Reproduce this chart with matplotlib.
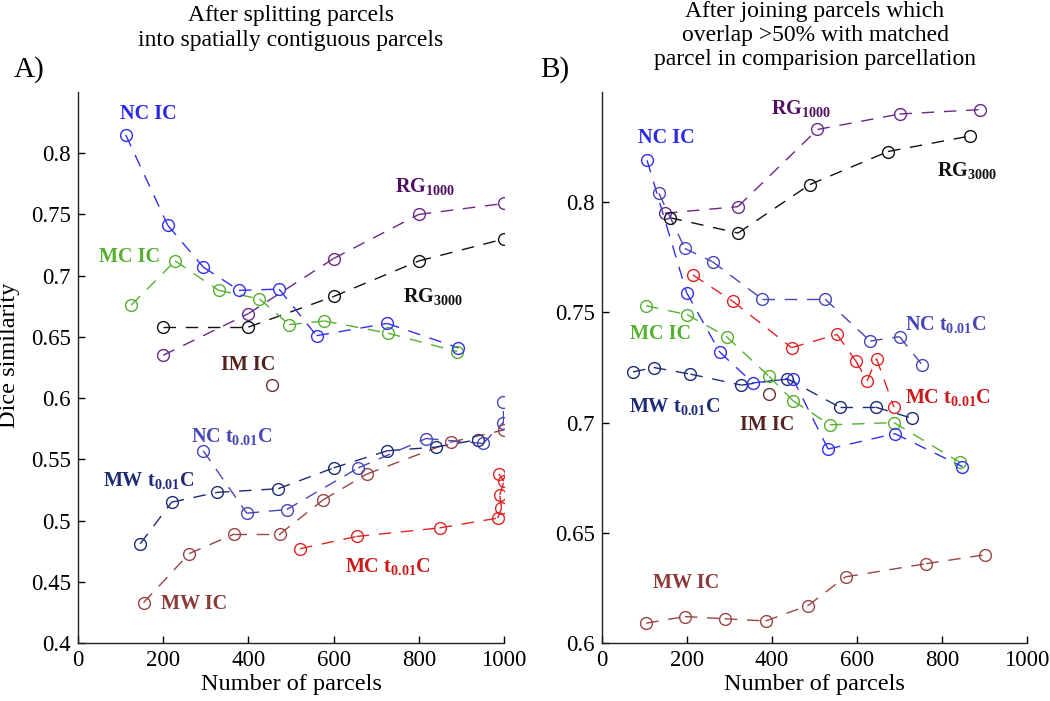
import matplotlib

matplotlib.use("Agg")
import matplotlib.pyplot as plt
from matplotlib.ticker import FuncFormatter, MultipleLocator

plt.rcParams["font.family"] = ["Liberation Serif", "DejaVu Serif"]
plt.rcParams["mathtext.fontset"] = "custom"
plt.rcParams["mathtext.rm"] = "Liberation Serif"
plt.rcParams["mathtext.bf"] = "Liberation Serif:bold"

# ---- panel A: after splitting parcels ----
a_nc_ic_x = [112, 211, 294, 378, 472, 560, 726, 893]
a_nc_ic_y = [0.815, 0.741, 0.707, 0.688, 0.689, 0.651, 0.661, 0.641]
a_mc_ic_x = [125, 228, 330, 426, 496, 578, 728, 890]
a_mc_ic_y = [0.676, 0.712, 0.688, 0.681, 0.660, 0.663, 0.653, 0.638]
a_rg1000_x = [200, 400, 600, 800, 1000]
a_rg1000_y = [0.635, 0.669, 0.714, 0.750, 0.759]
a_rg3000_x = [200, 400, 600, 800, 1000]
a_rg3000_y = [0.658, 0.658, 0.683, 0.712, 0.730]
a_im_ic_x = [455]
a_im_ic_y = [0.611]
a_nc_t_x = [294, 396, 490, 658, 817, 951, 998, 998]
a_nc_t_y = [0.557, 0.506, 0.509, 0.543, 0.567, 0.563, 0.580, 0.597]
a_mw_t_x = [146, 220, 326, 470, 600, 726, 840, 938]
a_mw_t_y = [0.481, 0.515, 0.523, 0.526, 0.543, 0.557, 0.560, 0.566]
a_mw_ic_x = [154, 261, 367, 474, 576, 678, 875, 1000]
a_mw_ic_y = [0.433, 0.473, 0.489, 0.489, 0.517, 0.538, 0.564, 0.574]
a_mc_t_x = [521, 654, 849, 985, 994, 990, 1000, 988]
a_mc_t_y = [0.477, 0.487, 0.494, 0.502, 0.510, 0.521, 0.532, 0.538]

# ---- panel B: after joining overlapping parcels ----
b_nc_ic_x = [106, 199, 277, 355, 449, 532, 689, 848]
b_nc_ic_y = [0.819, 0.759, 0.732, 0.718, 0.720, 0.688, 0.695, 0.680]
b_nc_t_x = [134, 195, 260, 377, 525, 631, 700, 754]
b_nc_t_y = [0.804, 0.779, 0.773, 0.756, 0.756, 0.737, 0.739, 0.726]
b_rg1000_x = [148, 320, 507, 700, 889]
b_rg1000_y = [0.795, 0.798, 0.833, 0.840, 0.842]
b_rg3000_x = [159, 320, 489, 673, 865]
b_rg3000_y = [0.793, 0.786, 0.808, 0.823, 0.830]
b_mc_t_x = [214, 308, 446, 553, 597, 624, 646, 687]
b_mc_t_y = [0.767, 0.755, 0.734, 0.740, 0.728, 0.719, 0.729, 0.707]
b_mc_ic_x = [104, 200, 293, 393, 449, 536, 687, 842]
b_mc_ic_y = [0.753, 0.749, 0.739, 0.721, 0.710, 0.699, 0.700, 0.682]
b_mw_t_x = [73, 122, 208, 328, 435, 559, 644, 729]
b_mw_t_y = [0.723, 0.725, 0.722, 0.717, 0.720, 0.707, 0.707, 0.702]
b_im_ic_x = [393]
b_im_ic_y = [0.713]
b_mw_ic_x = [104, 195, 289, 385, 485, 573, 763, 900]
b_mw_ic_y = [0.609, 0.612, 0.611, 0.610, 0.617, 0.630, 0.636, 0.640]

COLORS = {
    "nc_ic": "#3030f0",
    "mc_ic": "#55b030",
    "rg1000": "#6a2888",
    "rg3000": "#111111",
    "im_ic": "#6a3030",
    "nc_t": "#4646b8",
    "mw_t": "#1e2c78",
    "mw_ic": "#9a4444",
    "mc_t": "#e02424",
}
LABEL_COLORS = dict(COLORS, rg1000="#4f1063", im_ic="#552222", mc_t="#cc1a1a",
                    mw_ic="#8b3a3a", nc_ic="#2828e8")

NAMES = {
    "nc_ic": "NC IC",
    "mc_ic": "MC IC",
    "rg1000": r"RG$_{\mathbf{1000}}$",
    "rg3000": r"RG$_{\mathbf{3000}}$",
    "im_ic": "IM IC",
    "nc_t": r"NC t$_{\mathbf{0.01}}$C",
    "mw_t": r"MW t$_{\mathbf{0.01}}$C",
    "mw_ic": "MW IC",
    "mc_t": r"MC t$_{\mathbf{0.01}}$C",
}


def draw_series(ax, x, y, color):
    # dash pattern restarts at every point, like the original figure
    for i in range(len(x) - 1):
        ax.plot(x[i:i + 2], y[i:i + 2], color=color, lw=1.0,
                linestyle=(0, (9, 7)), zorder=2)
    ax.plot(x, y, linestyle="none", marker="o", ms=8.5, mfc="none",
            mec=color, mew=1.0, zorder=3)


def style_axes(ax, ylim, yticks):
    ax.set_xlim(0, 1000)
    ax.set_ylim(*ylim)
    ax.xaxis.set_major_locator(MultipleLocator(200))
    ax.set_yticks(yticks)
    ax.yaxis.set_major_formatter(FuncFormatter(lambda v, p: f"{v:g}"))
    for side in ("top", "right"):
        ax.spines[side].set_visible(False)
    for side in ("left", "bottom"):
        ax.spines[side].set_linewidth(1.0)
        ax.spines[side].set_color("#222222")
    ax.tick_params(direction="in", length=5, width=1.0, labelsize=16.5, pad=5)
    ax.set_xlabel("Number of parcels", fontsize=17.5, labelpad=2)


def add_label(ax, key, x, y):
    ax.text(x, y, NAMES[key], color=LABEL_COLORS[key], fontsize=14.5,
            fontweight="bold", ha="center", va="center")


def main():
    fig = plt.figure(figsize=(10.5, 7.01), dpi=100)
    ax_a = fig.add_axes([78 / 1050, 58 / 701, 426 / 1050, 551 / 701])
    ax_b = fig.add_axes([602 / 1050, 58 / 701, 425 / 1050, 551 / 701])

    series_a = [
        ("rg1000", a_rg1000_x, a_rg1000_y),
        ("rg3000", a_rg3000_x, a_rg3000_y),
        ("mw_ic", a_mw_ic_x, a_mw_ic_y),
        ("mc_t", a_mc_t_x, a_mc_t_y),
        ("mw_t", a_mw_t_x, a_mw_t_y),
        ("nc_t", a_nc_t_x, a_nc_t_y),
        ("im_ic", a_im_ic_x, a_im_ic_y),
        ("mc_ic", a_mc_ic_x, a_mc_ic_y),
        ("nc_ic", a_nc_ic_x, a_nc_ic_y),
    ]
    for key, x, y in series_a:
        draw_series(ax_a, x, y, COLORS[key])

    series_b = [
        ("rg1000", b_rg1000_x, b_rg1000_y),
        ("rg3000", b_rg3000_x, b_rg3000_y),
        ("mw_ic", b_mw_ic_x, b_mw_ic_y),
        ("mc_t", b_mc_t_x, b_mc_t_y),
        ("mw_t", b_mw_t_x, b_mw_t_y),
        ("nc_t", b_nc_t_x, b_nc_t_y),
        ("im_ic", b_im_ic_x, b_im_ic_y),
        ("mc_ic", b_mc_ic_x, b_mc_ic_y),
        ("nc_ic", b_nc_ic_x, b_nc_ic_y),
    ]
    for key, x, y in series_b:
        draw_series(ax_b, x, y, COLORS[key])

    style_axes(ax_a, (0.4, 0.85), [0.4, 0.45, 0.5, 0.55, 0.6, 0.65, 0.7, 0.75, 0.8])
    style_axes(ax_b, (0.6, 0.85), [0.6, 0.65, 0.7, 0.75, 0.8])

    add_label(ax_a, "nc_ic", 165, 0.832)
    add_label(ax_a, "mc_ic", 120, 0.715)
    add_label(ax_a, "rg1000", 815, 0.772)
    add_label(ax_a, "rg3000", 833, 0.682)
    add_label(ax_a, "im_ic", 400, 0.627)
    add_label(ax_a, "nc_t", 360, 0.568)
    add_label(ax_a, "mw_t", 165, 0.532)
    add_label(ax_a, "mw_ic", 273, 0.432)
    add_label(ax_a, "mc_t", 728, 0.462)

    add_label(ax_b, "rg1000", 468, 0.842)
    add_label(ax_b, "nc_ic", 152, 0.829)
    add_label(ax_b, "rg3000", 860, 0.814)
    add_label(ax_b, "nc_t", 808, 0.744)
    add_label(ax_b, "mc_t", 813, 0.711)
    add_label(ax_b, "mc_ic", 137, 0.740)
    add_label(ax_b, "mw_t", 171, 0.707)
    add_label(ax_b, "im_ic", 389, 0.699)
    add_label(ax_b, "mw_ic", 199, 0.627)

    fig.text(291 / 1050, 1 - 5 / 701,
             "After splitting parcels\ninto spatially contiguous parcels",
             ha="center", va="top", fontsize=17, linespacing=1.25)
    fig.text(815 / 1050, 1 - 1 / 701,
             "After joining parcels which\noverlap >50% with matched\n"
             "parcel in comparision parcellation",
             ha="center", va="top", fontsize=17, linespacing=1.2)
    fig.text(14 / 1050, 1 - 70 / 701, "A)", ha="left", va="center", fontsize=21)
    fig.text(540 / 1050, 1 - 70 / 701, "B)", ha="left", va="center", fontsize=21)
    fig.text(10 / 1050, 1 - 355 / 701, "Dice similarity", rotation=90,
             ha="center", va="center", fontsize=17.5)

    fig.savefig("out.png", dpi=100)
    plt.close(fig)


if __name__ == "__main__":
    main()
